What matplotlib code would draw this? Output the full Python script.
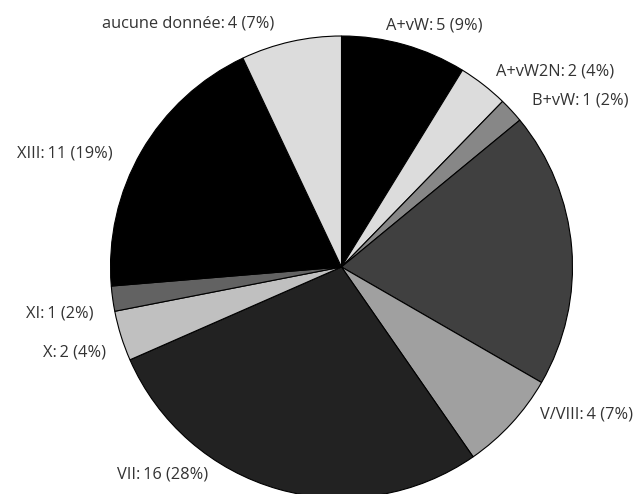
import matplotlib.pyplot as plt

# slice data, clockwise from 12 o'clock
categories = ['A+vW', 'A+vW2N', 'B+vW', '', 'V/VIII', 'VII', 'X', 'XI', 'XIII', 'aucune donnée']
counts = [5, 2, 1, 11, 4, 16, 2, 1, 11, 4]
colors = ['#000000', '#dcdcdc', '#878787', '#404040', '#a0a0a0',
          '#222222', '#c0c0c0', '#626262', '#000000', '#dcdcdc']

# label anchors in pixels (x, y, horizontal alignment)
label_pos = [(386, 26, 'left'), (496, 72, 'left'), (532, 100, 'left'), None,
             (540, 414, 'left'), (208, 474, 'right'), (106, 352, 'right'),
             (93, 313, 'right'), (113, 153, 'right'), (274, 24, 'right')]

plt.rcParams['font.family'] = ['Open Sans', 'DejaVu Sans']

fig = plt.figure(figsize=(6.39, 4.94), dpi=100)
ax = fig.add_axes([0, 0, 1, 1])

# y axis runs downward, so counterclock in data is clockwise on screen
ax.pie(counts, colors=colors, center=(341.5, 267), radius=231,
       startangle=-90, counterclock=True,
       wedgeprops=dict(edgecolor='black', linewidth=0.8))
ax.set_xlim(0, 639)
ax.set_ylim(494, 0)
ax.set_aspect('auto')
ax.axis('off')

total = sum(counts)
for name, n, pos in zip(categories, counts, label_pos):
    if pos is None:
        continue
    pct = round(100 * n / total)
    ax.text(pos[0], pos[1], f'{name}:\u2009{n} ({pct}%)', ha=pos[2], va='center',
            fontsize=11.8, color='#333333')

fig.savefig('out.png', dpi=100)
